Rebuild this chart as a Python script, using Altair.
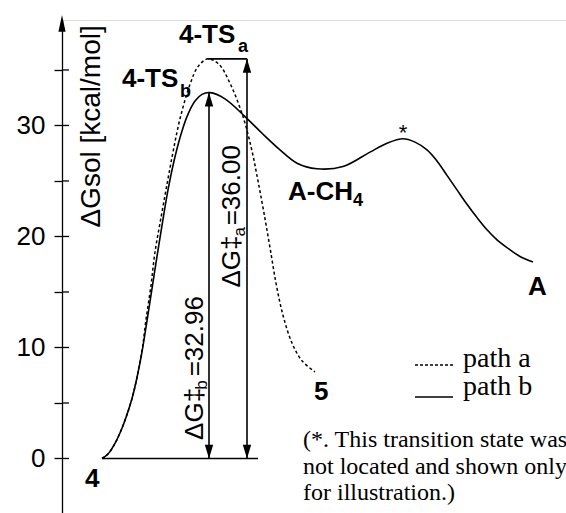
import altair as alt
import pandas as pd

# ---- data ----
# path b (solid): reaction coordinate vs free energy (kcal/mol)
path_b_x = [102, 108, 114, 120, 126, 132, 137, 142, 147, 152, 157, 162, 168, 174, 180, 187, 195, 202, 210,
            225, 245, 262, 280, 297, 317, 343, 370, 387, 403, 415, 427, 437, 447, 457, 467, 477, 487, 497,
            507, 520, 533]
path_b_g = [0, 0.4, 1.2, 2.3, 3.7, 5.4, 7.3, 9.6, 12.4, 15.3, 18.2, 21.0, 24.2, 26.8, 28.9, 30.8, 32.2, 32.8, 32.96,
            32.4, 30.8, 29.3, 27.8, 26.6, 26.1, 26.3, 27.6, 28.4, 28.8, 28.5, 27.8, 26.8, 25.5, 24.2, 22.9, 21.7,
            20.6, 19.7, 19.0, 18.2, 17.7]
# path a (dashed)
path_a_x = [102, 108, 114, 120, 126, 132, 137, 142, 146, 151, 155, 161, 167, 173, 180, 190, 198, 208,
            219, 230, 243, 252, 258, 264, 270, 276, 283, 292, 302, 315]
path_a_g = [0, 0.4, 1.2, 2.3, 3.7, 5.4, 7.3, 9.7, 12.5, 15.6, 18.6, 21.7, 24.7, 27.6, 30.6, 33.7, 35.3, 36.0,
            35.5, 33.8, 30.8, 27.7, 25.0, 22.1, 19.0, 15.8, 12.9, 10.4, 8.8, 7.8]

y_ticks = [0, 5, 10, 15, 20, 25, 30, 35]
barrier_a = 36.00
barrier_b = 32.96
ts_x = 208          # position of 4-TS
arrow_b_x = 209
arrow_a_x = 247
start_x = 102
base_end_x = 258

# ---- scales / axis ----
xs = alt.Scale(domain=[62, 566], nice=False, zero=False)
ys = alt.Scale(domain=[-4.91, 39.5], nice=False, zero=False)
yaxis = alt.Axis(values=y_ticks, labelExpr="datum.value % 10 === 0 ? datum.label : ''",
                 title=None, grid=False, tickSize=8, tickWidth=1.3, tickColor="black",
                 domainColor="black", domainWidth=1.3, labelFont="Liberation Sans",
                 labelFontSize=26, labelColor="black", labelPadding=9)


def X(f):
    return alt.X(f, type="quantitative", scale=xs, axis=None)


def Y(f):
    return alt.Y(f, type="quantitative", scale=ys, axis=yaxis)


SANS = "Liberation Sans"
SERIF = "Liberation Serif"

df_b = pd.DataFrame({"x": path_b_x, "g": path_b_g})
df_a = pd.DataFrame({"x": path_a_x, "g": path_a_g})

line_b = alt.Chart(df_b).mark_line(color="black", strokeWidth=1.6, interpolate="catmull-rom").encode(
    x=X("x"), y=Y("g"))
line_a = alt.Chart(df_a).mark_line(color="black", strokeWidth=1.5, strokeDash=[3, 2.5],
                                   interpolate="catmull-rom").encode(x=X("x"), y=Y("g"))

# inward part of the axis ticks
ticks_in = alt.Chart(pd.DataFrame({"v": y_ticks})).mark_rule(color="black", strokeWidth=1.3).encode(
    x=alt.value(0), x2=alt.value(7), y=Y("v"))

# axis arrow head
axis_head = alt.Chart(pd.DataFrame({"v": [39.95]})).mark_point(
    shape="M0,0L0.6,2.8L-0.6,2.8Z", size=144, filled=True, color="black", opacity=1, strokeWidth=0
).encode(x=alt.value(0), y=Y("v"))

# horizontal rules: baseline at 0 and top of TS_a
hrules = pd.DataFrame({"x": [start_x, ts_x], "x2": [base_end_x, arrow_a_x], "y": [0, barrier_a]})
hr = alt.Chart(hrules).mark_rule(color="black", strokeWidth=1.6).encode(
    x=X("x"), x2=alt.X2("x2"), y=Y("y"))

# vertical barrier arrows
vr_df = pd.DataFrame({"x": [arrow_b_x, arrow_a_x], "y": [0, 0], "y2": [barrier_b, barrier_a]})
vr = alt.Chart(vr_df).mark_rule(color="black", strokeWidth=1.6).encode(
    x=X("x"), y=Y("y"), y2=alt.Y2("y2"))
heads_up = alt.Chart(pd.DataFrame({"x": [arrow_b_x, arrow_a_x], "y": [barrier_b, barrier_a]})).mark_point(
    shape="M0,0L0.7,2.3L-0.7,2.3Z", size=144, filled=True, color="black", opacity=1, strokeWidth=0
).encode(x=X("x"), y=Y("y"))
heads_dn = alt.Chart(pd.DataFrame({"x": [arrow_b_x, arrow_a_x], "y": [0, 0]})).mark_point(
    shape="M0,0L0.7,-2.3L-0.7,-2.3Z", size=144, filled=True, color="black", opacity=1, strokeWidth=0
).encode(x=X("x"), y=Y("y"))

# bold species labels
bold_main = pd.DataFrame({"t": ["4-TS", "4-TS", "A-CH", "A", "4", "5"],
                          "x": [179, 122, 288, 528, 85, 314],
                          "y": [37.4, 33.5, 23.3, 14.7, -2.6, 5.3]})
bold_sub = pd.DataFrame({"t": ["a", "b", "4"], "x": [238, 180, 353], "y": [36.6, 32.6, 22.7]})
t_bold = alt.Chart(bold_main).mark_text(font=SANS, fontWeight="bold", fontSize=26, align="left",
                                        baseline="alphabetic", color="black").encode(
    x=X("x"), y=Y("y"), text="t:N")
t_bold_sub = alt.Chart(bold_sub).mark_text(font=SANS, fontWeight="bold", fontSize=18, align="left",
                                           baseline="alphabetic", color="black").encode(
    x=X("x"), y=Y("y"), text="t:N")

star = alt.Chart(pd.DataFrame({"t": ["*"], "x": [403], "y": [28.7]})).mark_text(
    font=SANS, fontSize=22, align="center", baseline="alphabetic", color="black").encode(
    x=X("x"), y=Y("y"), text="t:N")

# rotated barrier labels
rot_main = pd.DataFrame({"t": ["ΔG‡", "=32.96", "ΔG‡", "=36.00"],
                         "x": [203, 203, 240, 240],
                         "y": [1.67, 7.4, 15.4, 21.0]})
rot_sub = pd.DataFrame({"t": ["b", "a"], "x": [207, 245], "y": [6.2, 20.0]})
t_rot = alt.Chart(rot_main).mark_text(font=SANS, fontSize=26, angle=270, align="left",
                                      baseline="alphabetic", color="black").encode(
    x=X("x"), y=Y("y"), text="t:N")
t_rot_sub = alt.Chart(rot_sub).mark_text(font=SANS, fontSize=17, angle=270, align="left",
                                         baseline="alphabetic", color="black").encode(
    x=X("x"), y=Y("y"), text="t:N")

# y-axis title (inside the plot, rotated)
t_title = alt.Chart(pd.DataFrame({"t": ["ΔGsol [kcal/mol]"], "x": [100], "y": [20.8]})).mark_text(
    font=SANS, fontSize=28, angle=270, align="left", baseline="alphabetic", color="black").encode(
    x=X("x"), y=Y("y"), text="t:N")

# legend
leg_lines = pd.DataFrame({"x": [415, 415], "x2": [453, 453], "y": [8.42, 5.54], "k": ["a", "b"]})
leg_a = alt.Chart(leg_lines[leg_lines.k == "a"]).mark_rule(color="black", strokeWidth=1.3,
                                                           strokeDash=[3, 2]).encode(
    x=X("x"), x2=alt.X2("x2"), y=Y("y"))
leg_b = alt.Chart(leg_lines[leg_lines.k == "b"]).mark_rule(color="black", strokeWidth=1.6).encode(
    x=X("x"), x2=alt.X2("x2"), y=Y("y"))
leg_txt = alt.Chart(pd.DataFrame({"t": ["path a", "path b"], "x": [463, 463], "y": [8.24, 5.72]})).mark_text(
    font=SERIF, fontSize=28, align="left", baseline="alphabetic", color="black").encode(
    x=X("x"), y=Y("y"), text="t:N")

note_lines = ["(*. This transition state was", "not located and shown only", "for illustration.)"]
note = alt.Chart(pd.DataFrame({"t": note_lines, "x": [303, 303, 303], "y": [1.04, -1.40, -3.74]})).mark_text(
    font=SERIF, fontSize=24, align="left", baseline="alphabetic", color="black").encode(
    x=X("x"), y=Y("y"), text="t:N")

chart = alt.layer(
    line_a, line_b, ticks_in, axis_head, hr, vr, heads_up, heads_dn,
    t_bold, t_bold_sub, star, t_rot, t_rot_sub, t_title, leg_a, leg_b, leg_txt, note
).properties(
    width=504, height=493,
    autosize=alt.AutoSizeParams(type="none"),
    padding={"left": 62, "top": 20, "right": 0, "bottom": 0},
).configure_view(stroke=None).configure(background="white")

chart.save("out.html", embed_options={"renderer": "svg", "actions": False})
